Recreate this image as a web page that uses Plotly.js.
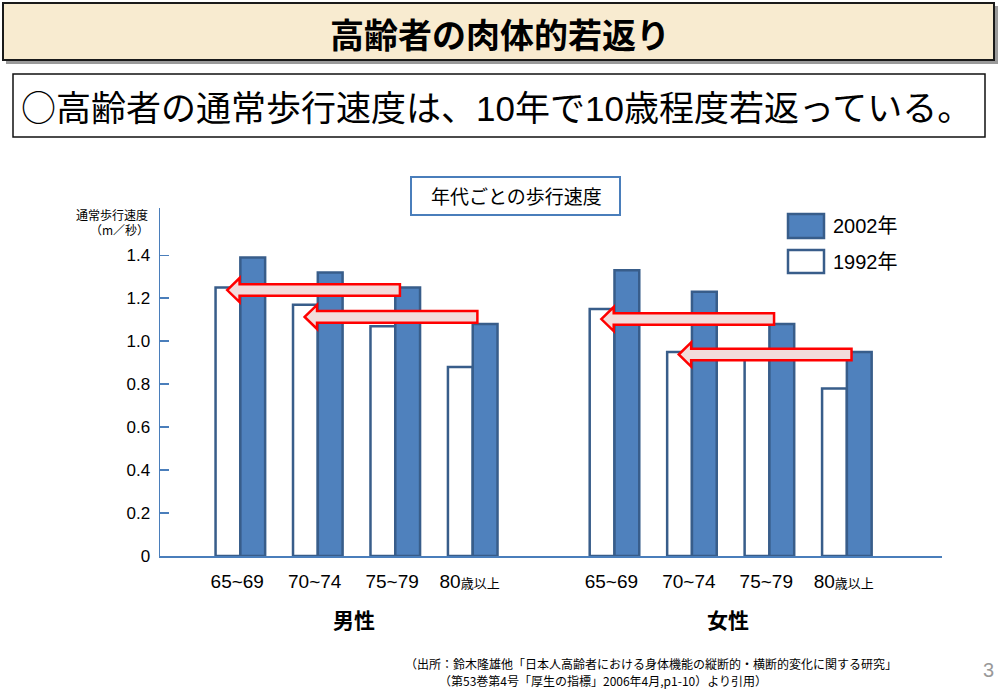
<!DOCTYPE html>
<html>
<head>
<meta charset="utf-8">
<script src="https://cdn.plot.ly/plotly-3.0.1.min.js"></script>
<style>html,body{margin:0;padding:0;background:#fff;}#chart{width:1000px;height:692px;}</style>
</head>
<body>
<div id="chart"></div>
<script>
// ---- data ----
const categories = ['65~69', '70~74', '75~79', '80歳以上'];
const groups = ['男性', '女性'];
const seriesNames = ['2002年', '1992年'];
const male1992 = [1.25, 1.17, 1.07, 0.88];
const male2002 = [1.39, 1.32, 1.25, 1.08];
const female1992 = [1.15, 0.95, 0.93, 0.78];
const female2002 = [1.33, 1.23, 1.08, 0.95];
const yTicks = [0, 0.2, 0.4, 0.6, 0.8, 1.0, 1.2, 1.4];
const mainTitle = '高齢者の肉体的若返り';
const subTitleMark = '○';
const subTitle = '高齢者の通常歩行速度は、10年で10歳程度若返っている。';
const chartTitle = '年代ごとの歩行速度';
const yTitle1 = '通常歩行速度';
const yTitle2 = '（m／秒）';
const source1 = '（出所：鈴木隆雄他「日本人高齢者における身体機能の縦断的・横断的変化に関する研究」';
const source2 = '（第53巻第4号「厚生の指標」2006年4月,p1-10）より引用）';
const pageNo = '3';

// ---- layout helpers ----
const FONT = '"Liberation Sans", Arial, "Noto Sans CJK JP", sans-serif';
const JFONT = '"Noto Sans CJK JP", sans-serif';
const BLUE = '#4f81bd', EDGE = '#385d8a', AXIS = '#4a7ebb';
const W = 1000, H = 692, ML = 160, MR = 58, MT = 208, MB = 136;
const PW = W - ML - MR, PH = H - MT - MB;
const px = x => (x - ML) / PW;
const py = y => (H - MB - y) / PH;
const GROUP_OFFSET = 4.83;
const BW = 0.32;

const posMale = categories.map((c, i) => i);
const posFemale = categories.map((c, i) => i + GROUP_OFFSET);
const xs = posMale.concat(posFemale);
const v1992 = male1992.concat(female1992);
const v2002 = male2002.concat(female2002);

function tickLabel(c) {
  const m = c.match(/^(\d+)(\D.*)$/);
  if (m && !/[~]/.test(c)) return m[1] + '<span style="font-size:13px">' + m[2] + '</span>';
  return c;
}
const ticktext = categories.concat(categories).map(tickLabel);

const traces = [
  {type: 'bar', name: seriesNames[1], x: xs, y: v1992, width: BW, offset: -BW,
   marker: {color: '#ffffff', line: {color: EDGE, width: 2.5}}, showlegend: false, hoverinfo: 'y'},
  {type: 'bar', name: seriesNames[0], x: xs, y: v2002, width: BW, offset: 0,
   marker: {color: BLUE, line: {color: EDGE, width: 2.5}}, showlegend: false, hoverinfo: 'y'}
];

// arrows: 2002 value of age group i+2 -> 1992 value of age group i
function arrowPath(pos, old, neu, i) {
  const yc = (old[i] + neu[i + 2]) / 2 - 0.012;
  const xt = pos[i] - BW + 0.15;
  const xb = xt + 0.16;
  const xr = pos[i + 2] + 0.06;
  const hh = 0.056, sh = 0.027;
  return `M ${xt},${yc} L ${xb},${yc + hh} L ${xb},${yc + sh} L ${xr},${yc + sh} L ${xr},${yc - sh} L ${xb},${yc - sh} L ${xb},${yc - hh} Z`;
}
const shapes = [];
// banner shadow + banner
shapes.push({type: 'rect', xref: 'paper', yref: 'paper', x0: px(6), x1: px(998), y0: py(6), y1: py(64),
  fillcolor: '#9a9a9a', line: {width: 0}, layer: 'below'});
shapes.push({type: 'rect', xref: 'paper', yref: 'paper', x0: px(3), x1: px(994), y0: py(3), y1: py(60),
  fillcolor: '#f8ebd0', line: {color: '#1a1a1a', width: 2}, layer: 'below'});
// subtitle box
shapes.push({type: 'rect', xref: 'paper', yref: 'paper', x0: px(13), x1: px(985), y0: py(74), y1: py(137),
  fillcolor: '#ffffff', line: {color: '#111111', width: 1.5}, layer: 'below'});
// chart title box
shapes.push({type: 'rect', xref: 'paper', yref: 'paper', x0: px(411), x1: px(620), y0: py(177), y1: py(215),
  fillcolor: '#ffffff', line: {color: AXIS, width: 2}});
// legend swatches
shapes.push({type: 'rect', xref: 'paper', yref: 'paper', x0: px(788), x1: px(824), y0: py(214), y1: py(238),
  fillcolor: BLUE, line: {color: EDGE, width: 2.5}});
shapes.push({type: 'rect', xref: 'paper', yref: 'paper', x0: px(788), x1: px(824), y0: py(250), y1: py(273),
  fillcolor: '#ffffff', line: {color: EDGE, width: 2.5}});
// arrows
[[posMale, male1992, male2002], [posFemale, female1992, female2002]].forEach(([pos, o, nn]) => {
  [0, 1].forEach(i => {
    shapes.push({type: 'path', xref: 'x', yref: 'y', path: arrowPath(pos, o, nn, i),
      fillcolor: '#f2dcdb', line: {color: '#ff0000', width: 2.5}, layer: 'above'});
  });
});

const ann = [];
ann.push({text: '<b>' + mainTitle + '</b>', xref: 'paper', yref: 'paper', x: px(500), y: py(33),
  showarrow: false, font: {family: JFONT, size: 34, color: '#000'}, xanchor: 'center', yanchor: 'middle'});
ann.push({text: '<span style="font-family:\'Noto Sans CJK JP\'">' + subTitleMark + '</span>' + subTitle,
  xref: 'paper', yref: 'paper', x: px(19), y: py(106),
  showarrow: false, font: {family: FONT, size: 35, color: '#000'}, xanchor: 'left', yanchor: 'middle'});
ann.push({text: chartTitle, xref: 'paper', yref: 'paper', x: px(516), y: py(196),
  showarrow: false, font: {family: JFONT, size: 19, color: '#000'}, xanchor: 'center', yanchor: 'middle'});
ann.push({text: seriesNames[0], xref: 'paper', yref: 'paper', x: px(831), y: py(226),
  showarrow: false, font: {family: FONT, size: 20, color: '#000'}, xanchor: 'left', yanchor: 'middle'});
ann.push({text: seriesNames[1], xref: 'paper', yref: 'paper', x: px(831), y: py(262),
  showarrow: false, font: {family: FONT, size: 20, color: '#000'}, xanchor: 'left', yanchor: 'middle'});
ann.push({text: yTitle1, xref: 'paper', yref: 'paper', x: px(150), y: py(215),
  showarrow: false, font: {family: JFONT, size: 12, color: '#000'}, xanchor: 'right', yanchor: 'middle'});
ann.push({text: yTitle2, xref: 'paper', yref: 'paper', x: px(151), y: py(229),
  showarrow: false, font: {family: JFONT, size: 12, color: '#000'}, xanchor: 'right', yanchor: 'middle'});
// group labels at middle of each group
[[posMale, groups[0]], [posFemale, groups[1]]].forEach(([pos, g]) => {
  const mid = (pos[0] + pos[pos.length - 1]) / 2;
  ann.push({text: '<b>' + g + '</b>', xref: 'x', yref: 'paper', x: mid - 0.03, y: py(619),
    showarrow: false, font: {family: JFONT, size: 21, color: '#000'}, xanchor: 'center', yanchor: 'middle'});
});
ann.push({text: source1, xref: 'paper', yref: 'paper', x: px(403), y: py(663),
  showarrow: false, font: {family: JFONT, size: 12, color: '#000'}, xanchor: 'left', yanchor: 'middle'});
ann.push({text: source2, xref: 'paper', yref: 'paper', x: px(437), y: py(680),
  showarrow: false, font: {family: JFONT, size: 12, color: '#000'}, xanchor: 'left', yanchor: 'middle'});
ann.push({text: pageNo, xref: 'paper', yref: 'paper', x: px(988), y: py(670),
  showarrow: false, font: {family: FONT, size: 20, color: '#999999'}, xanchor: 'center', yanchor: 'middle'});

const layout = {
  width: W, height: H,
  margin: {l: ML, r: MR, t: MT, b: MB, pad: 0},
  paper_bgcolor: '#ffffff', plot_bgcolor: '#ffffff',
  showlegend: false,
  font: {family: FONT, color: '#000'},
  xaxis: {
    range: [(ML - 240) / 77.5 - 0.005, (942 - 240) / 77.5], fixedrange: true,
    tickmode: 'array', tickvals: xs.map(v => v - 0.04), ticktext: ticktext,
    showgrid: false, zeroline: false, showline: true, linecolor: AXIS, linewidth: 1.5,
    ticks: '', ticklabelstandoff: 8, tickfont: {family: FONT, size: 19, color: '#000'}
  },
  yaxis: {
    range: [0, 1.62], fixedrange: true,
    tickmode: 'array', tickvals: yTicks, ticktext: yTicks.map(v => v === 0 ? '0' : v.toFixed(1)),
    showgrid: false, zeroline: false, showline: true, linecolor: AXIS, linewidth: 1.5,
    ticks: 'inside', ticklen: 9, tickcolor: AXIS, tickwidth: 1.5,
    ticklabelstandoff: 5, tickfont: {family: FONT, size: 17, color: '#000'}
  },
  shapes: shapes,
  annotations: ann
};

Plotly.newPlot('chart', traces, layout, {displayModeBar: false, staticPlot: true});
</script>
</body>
</html>
